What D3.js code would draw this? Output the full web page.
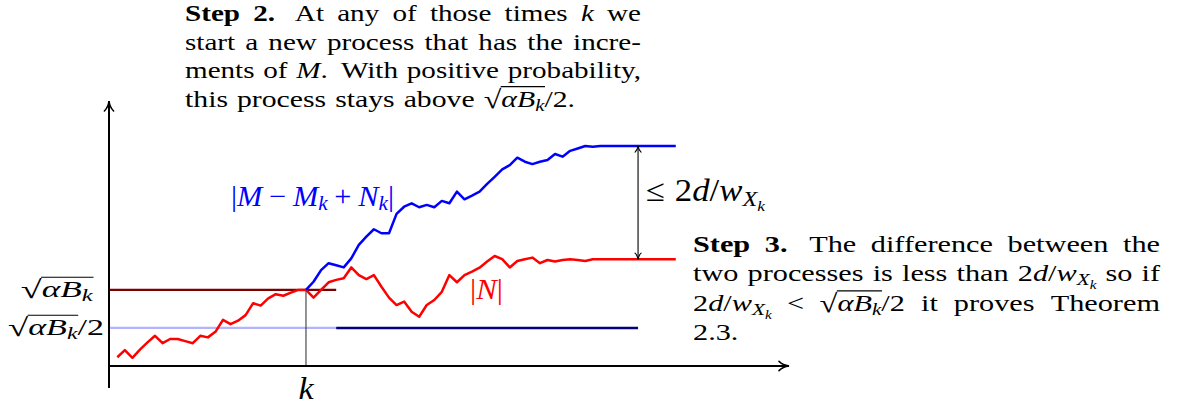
<!DOCTYPE html>
<html><head><meta charset="utf-8">
<script src="https://cdn.jsdelivr.net/npm/d3@7"></script>
<style>body{margin:0;background:#fff}svg{display:block}</style>
</head><body>
<svg id="c" width="1180" height="404"></svg>
<script>
// ---------------- data ----------------
const redSteps = d3.range(0, 75);
const redValues = [3.3, 6.0, 3.1, 6.2, 8.9, 11.4, 8.6, 10.2, 10.2, 9.4,
  8.6, 11.4, 10.8, 12.9, 17.4, 15.8, 17.1, 19.2, 23.7, 22.8,
  25.5, 27.1, 26.5, 27.7, 28.7, 28.7, 25.8, 28.7, 31.6, 32.5,
  33.1, 37.2, 34.3, 32.8, 34.3, 29.9, 25.8, 23.0, 24.3, 20.5,
  18.6, 23.0, 24.9, 28.0, 34.3, 31.6, 34.3, 35.6, 37.1, 39.4,
  41.5, 40.3, 37.2, 39.6, 40.3, 40.9, 38.8, 40.0, 39.4, 40.0,
  40.3, 40.0, 39.6, 40.3, 40.3, 40.3, 40.3, 40.3, 40.3, 40.3,
  40.3, 40.3, 40.3, 40.3, 40.3];
const blueSteps = d3.range(25, 75);
const blueValues = [28.7, 31.8, 36.2, 38.8, 38.0, 37.2, 40.6, 45.7, 48.8, 51.6,
  50.1, 50.1, 57.4, 60.1, 61.4, 59.9, 60.8, 59.9, 62.3, 61.4,
  65.8, 62.9, 64.3, 65.8, 68.7, 71.4, 74.2, 75.8, 78.6, 77.1,
  76.2, 77.1, 77.7, 80.0, 79.0, 81.2, 82.1, 83.0, 82.7, 83.0,
  83.0, 83.0, 83.0, 83.0, 83.0, 83.0, 83.0, 83.0, 83.0, 83.0];
const kStep = 25;
const levelFull = 28.7;     // sqrt(alpha B_k)
const levelHalf = 14.35;    // sqrt(alpha B_k)/2
const refEndStep = 29;      // end of the dark-red / light-blue reference lines
const gapStep = 69;         // position of the double arrow / end of navy line
const xDomain = [-1.1, 89];
const yDomain = [0, 100];
const yAxisBottom = -8.3;

// ---------------- setup ----------------
const svg = d3.select('#c');
const x = d3.scaleLinear().domain(xDomain).range([109, 789]);
const y = d3.scaleLinear().domain(yDomain).range([366, 101]);
const line = d3.line().x(d => x(d[0])).y(d => y(d[1]));
const FONT = "'Liberation Serif','DejaVu Serif',serif";

const defs = svg.append('defs');
function marker(id, len, half, sw) {
  defs.append('marker').attr('id', id).attr('markerUnits', 'userSpaceOnUse')
    .attr('viewBox', `${-len - 2} ${-half - 2} ${len + 4} ${2 * half + 4}`)
    .attr('markerWidth', len + 4).attr('markerHeight', 2 * half + 4)
    .attr('refX', 0).attr('refY', 0).attr('orient', 'auto-start-reverse')
    .append('path')
    .attr('d', `M${-len},${-half} C${-len * 0.7},${-half * 0.35} ${-len * 0.3},${-half * 0.08} 0,0 C${-len * 0.3},${half * 0.08} ${-len * 0.7},${half * 0.35} ${-len},${half}`)
    .attr('fill', 'none').attr('stroke', '#000').attr('stroke-width', sw).attr('stroke-linecap', 'round');
}
marker('axArrow', 10, 4.6, 1.6);
marker('gapArrow', 6, 3, 1.1);

// ---------------- reference lines ----------------
const g = svg.append('g');
g.append('path').datum([[xDomain[0], levelFull], [refEndStep, levelFull]])
  .attr('d', line).attr('stroke', '#7d0000').attr('stroke-width', 2.2).attr('fill', 'none');
g.append('path').datum([[xDomain[0], levelHalf], [refEndStep, levelHalf]])
  .attr('d', line).attr('stroke', '#b3b3ff').attr('stroke-width', 2.2).attr('fill', 'none');
g.append('path').datum([[refEndStep, levelHalf], [gapStep, levelHalf]])
  .attr('d', line).attr('stroke', '#000080').attr('stroke-width', 2.6).attr('fill', 'none');
g.append('path').datum([[kStep, 0], [kStep, levelFull]])
  .attr('d', line).attr('stroke', '#3a3a3a').attr('stroke-width', 1.1).attr('fill', 'none');

// ---------------- axes ----------------
g.append('path').datum([[xDomain[0], yAxisBottom], [xDomain[0], yDomain[1]]])
  .attr('d', line).attr('stroke', '#000').attr('stroke-width', 2).attr('fill', 'none')
  .attr('marker-end', 'url(#axArrow)');
g.append('path').datum([[xDomain[0], 0], [xDomain[1], 0]])
  .attr('d', line).attr('stroke', '#000').attr('stroke-width', 2).attr('fill', 'none')
  .attr('marker-end', 'url(#axArrow)');

// ---------------- curves ----------------
g.append('path').datum(redSteps.map((t, i) => [t, redValues[i]]))
  .attr('d', line).attr('stroke', '#ff0000').attr('stroke-width', 2.5)
  .attr('fill', 'none').attr('stroke-linejoin', 'round');
g.append('path').datum(blueSteps.map((t, i) => [t, blueValues[i]]))
  .attr('d', line).attr('stroke', '#0000ff').attr('stroke-width', 2.5)
  .attr('fill', 'none').attr('stroke-linejoin', 'round');

// gap arrow
g.append('path').datum([[gapStep, blueValues[blueValues.length - 1]], [gapStep, redValues[redValues.length - 1]]])
  .attr('d', line).attr('stroke', '#000').attr('stroke-width', 1.1).attr('fill', 'none')
  .attr('marker-start', 'url(#gapArrow)').attr('marker-end', 'url(#gapArrow)');

// ---------------- rich text engine ----------------
function flatten(items, out) {
  items.forEach(it => {
    if (typeof it === 'string') {
      it.split(/( )/).forEach(p => {
        if (p === ' ') out.push({ glue: 0.3, stretch: 1 });
        else if (p) out.push({ t: p, f: 'r' });
      });
    } else if (it.sqrt) {
      out.push({ t: '√', f: 'r', rad: true });
      out.push({ ov: 's' });
      flatten(it.sqrt, out);
      out.push({ ov: 'e' });
    } else out.push(Object.assign({ f: 'r' }, it));
  });
}
function buildLine(parent, items, size, fill) {
  const flat = []; flatten(items, flat);
  const lg = parent.append('g').attr('fill', fill);
  let nat = 0, stretchSum = 0;
  flat.forEach(it => {
    if (it.t !== undefined) {
      const rel = it.sub === 2 ? 0.5 : it.sub === 1 ? 0.7 : 1;
      const dy = it.sub === 2 ? 0.33 : it.sub === 1 ? 0.16 : 0;
      it.el = lg.append('text').text(it.t)
        .attr('font-family', FONT).attr('font-size', size * rel)
        .attr('font-style', it.f === 'i' ? 'italic' : 'normal')
        .attr('font-weight', it.f === 'b' ? 'bold' : 'normal')
        .attr('y', dy * size);
      if (it.rad) it.el.attr('font-size', size * 1.08).attr('y', 0.04 * size);
      it.w = it.el.node().getComputedTextLength() + (it.kern || 0) * size;
      nat += it.w;
    } else if (it.glue !== undefined) {
      it.w = it.glue * size; nat += it.w; stretchSum += (it.stretch || 0);
    }
  });
  return { lg, flat, nat, stretchSum, size, fill };
}
function placeLine(L, x0, y0, s, extra, anchor) {
  let cx = 0, ovx = 0;
  const per = L.stretchSum ? extra / s / L.stretchSum : 0;
  L.flat.forEach(it => {
    if (it.el) { it.el.attr('x', cx); cx += it.w; }
    else if (it.glue !== undefined) cx += it.w + per * (it.stretch || 0);
    else if (it.ov === 's') ovx = cx;
    else if (it.ov === 'e') {
      L.lg.append('line').attr('x1', ovx - 0.02 * L.size).attr('x2', cx + 0.02 * L.size)
        .attr('y1', -0.84 * L.size).attr('y2', -0.84 * L.size)
        .attr('stroke', L.fill).attr('stroke-width', 0.05 * L.size);
    }
  });
  const tot = cx * s;
  const left = anchor === 'middle' ? x0 - tot / 2 : x0;
  L.lg.attr('transform', `translate(${left},${y0}) scale(${s},1)`);
}
function label(items, o) {
  const L = buildLine(svg, items, o.size, o.fill || '#000');
  const s = o.width ? o.width / L.nat : (o.s || 1.1);
  placeLine(L, o.x, o.y, s, 0, o.anchor);
}
function paragraph(lines, o) {
  const Ls = lines.map(items => buildLine(svg, items, o.size, '#000'));
  let s = d3.min(Ls.slice(0, -1), L => o.width / L.nat);
  s = Math.max(1, Math.min(1.45, s));
  Ls.forEach((L, i) => {
    const last = i === Ls.length - 1;
    if (last && o.lastWidth) {
      // last line: keep its natural look, only fit its overall length
      placeLine(L, o.x, o.baselines[i], o.lastWidth / L.nat, 0, 'start');
    } else {
      placeLine(L, o.x, o.baselines[i], s, last ? 0 : o.width - s * L.nat, 'start');
    }
  });
}

// ---------------- text ----------------
const SENT = { glue: 0.45, stretch: 1.5 };
const sqrtAB = { sqrt: [{ t: 'α', f: 'i' }, { t: 'B', f: 'i' }, { t: 'k', f: 'i', sub: 1 }] };
const dOverW = [{ t: '2' }, { t: 'd', f: 'i' }, { t: '/' }, { t: 'w', f: 'i' }, { t: 'X', f: 'i', sub: 1 }, { t: 'k', f: 'i', sub: 2 }];

paragraph([
  [{ t: 'Step', f: 'b' }, { glue: 0.3, stretch: 1 }, { t: '2.', f: 'b' }, SENT, 'At any of those times ', { t: 'k', f: 'i' }, ' we'],
  ['start a new process that has the incre-'],
  ['ments of ', { t: 'M', f: 'i' }, { t: '.' }, SENT, 'With positive probability,'],
  ['this process stays above ', sqrtAB, { t: '/2.' }]
], { x: 185, width: 456, lastWidth: 390, size: 24, baselines: [21, 49.6, 78.2, 106.8] });

paragraph([
  [{ t: 'Step', f: 'b' }, { glue: 0.3, stretch: 1 }, { t: '3.', f: 'b' }, SENT, 'The difference between the'],
  ['two processes is less than ', ...dOverW, ' so if'],
  [...dOverW, { glue: 0.28, stretch: 1 }, { t: '<' }, { glue: 0.28, stretch: 1 }, sqrtAB, { t: '/2' }, ' it proves Theorem'],
  ['2.3.']
], { x: 693, width: 467, size: 24, baselines: [252, 280.8, 311, 339.8] });

const MED = { glue: 0.22 };
label([{ t: '|' }, { t: 'M', f: 'i' }, MED, { t: '−' }, MED, { t: 'M', f: 'i' }, { t: 'k', f: 'i', sub: 1 }, MED, { t: '+' }, MED,
  { t: 'N', f: 'i' }, { t: 'k', f: 'i', sub: 1 }, { t: '|' }], { x: 231, y: 205.5, size: 29, width: 163, fill: '#0000ff' });
label([{ t: '|' }, { t: 'N', f: 'i' }, { t: '|' }], { x: 470, y: 299, size: 29, width: 33, fill: '#ff0000' });
label([{ t: '≤' }, { glue: 0.28 }, ...dOverW], { x: 646, y: 201, size: 31, width: 119 });
label([{ t: 'k', f: 'i' }], { x: x(kStep), y: 398.5, size: 31, s: 1.1, anchor: 'middle' });
label([sqrtAB], { x: 56.8, y: 297, size: 23.5, width: 72, anchor: 'middle' });
label([sqrtAB, { t: '/2' }], { x: 56, y: 335, size: 23.5, width: 96, anchor: 'middle' });
</script>
</body></html>
